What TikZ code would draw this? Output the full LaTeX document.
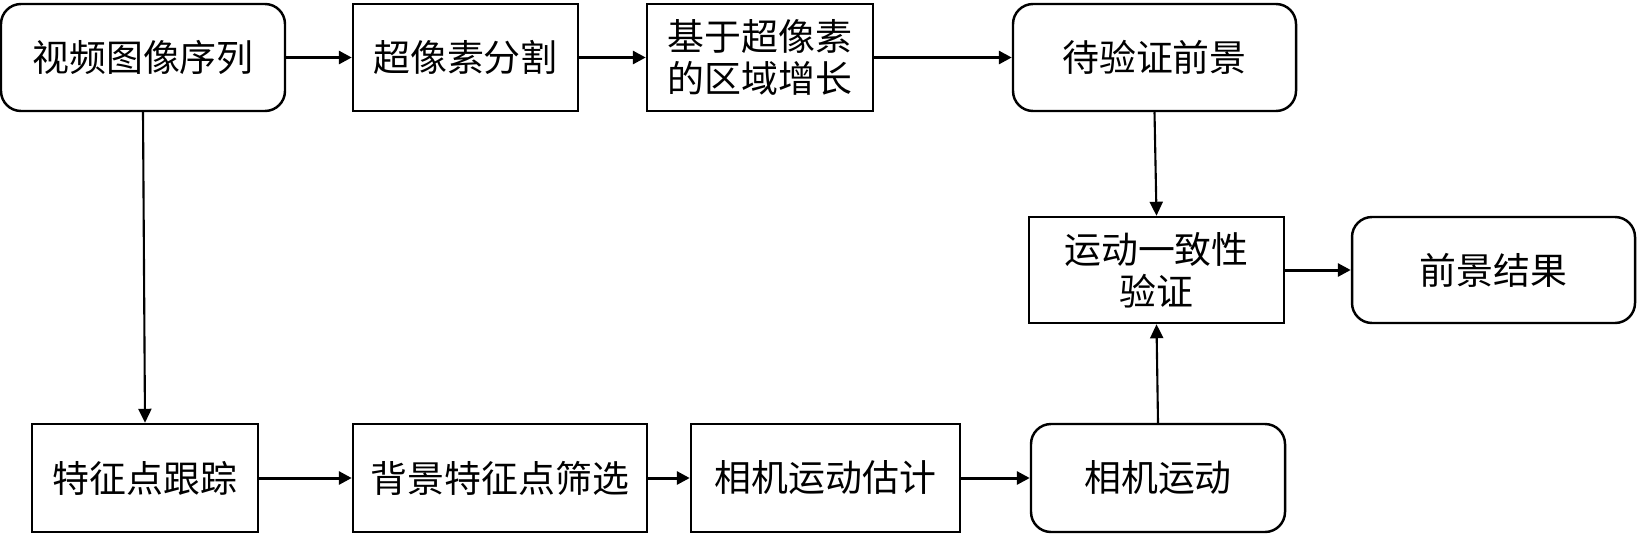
\documentclass[tikz,border=0pt]{standalone}
\usepackage{fontspec}
\setmainfont{Noto Sans CJK SC}
\usepackage{tikz}
\usetikzlibrary{shapes, arrows, positioning, arrows.meta}

\begin{document}
\begin{tikzpicture}[
    bloque/.style={draw, line width=0.7pt, minimum height=1.07cm, align=center,
        inner sep=0pt, font=\fontsize{10.5}{12}\selectfont},
    bloqueR/.style={bloque, rounded corners=0.2cm},
    flecha/.style={-{Triangle[length=1.3mm, width=1.3mm]}, line width=0.85pt},
    flechav/.style={-{Triangle[length=1.4mm, width=1.3mm]}, line width=0.6pt}]
    \useasboundingbox (0,0) rectangle (16.37,5.33);
    % Fila superior
    \node[bloqueR, minimum width=2.84cm] (video) at (1.43,4.755) {视频图像序列};
    \node[bloque, minimum width=2.25cm] (superpix) at (4.655,4.755) {超像素分割};
    \node[bloque, minimum width=2.26cm] (region) at (7.60,4.755) {基于超像素\\的区域增长};
    \node[bloqueR, minimum width=2.83cm] (candidato) at (11.545,4.755) {待验证前景};
    % Fila central
    \node[bloque, minimum width=2.55cm, minimum height=1.06cm] (verifica) at (11.565,2.63) {运动一致性\\验证};
    \node[bloqueR, minimum width=2.83cm, minimum height=1.06cm] (resultado) at (14.935,2.63) {前景结果};
    % Fila inferior
    \node[bloque, minimum width=2.26cm, minimum height=1.08cm] (rastreo) at (1.45,0.55) {特征点跟踪};
    \node[bloque, minimum width=2.94cm, minimum height=1.08cm] (filtro) at (5.00,0.55) {背景特征点筛选};
    \node[bloque, minimum width=2.69cm, minimum height=1.08cm] (estima) at (8.255,0.55) {相机运动估计};
    \node[bloqueR, minimum width=2.54cm, minimum height=1.08cm] (camara) at (11.58,0.55) {相机运动};
    % Flechas
    \draw[flecha] (video) -- (superpix);
    \draw[flecha] (superpix) -- (region);
    \draw[flecha] (region) -- (candidato);
    \draw[flechav] (video.south) -- (rastreo.north);
    \draw[flechav] (candidato.south) -- (verifica.north);
    \draw[flecha] (verifica) -- (resultado);
    \draw[flecha] (rastreo) -- (filtro);
    \draw[flecha] (filtro) -- (estima);
    \draw[flecha] (estima) -- (camara);
    \draw[flechav] (camara.north) -- (verifica.south);
\end{tikzpicture}
\end{document}
